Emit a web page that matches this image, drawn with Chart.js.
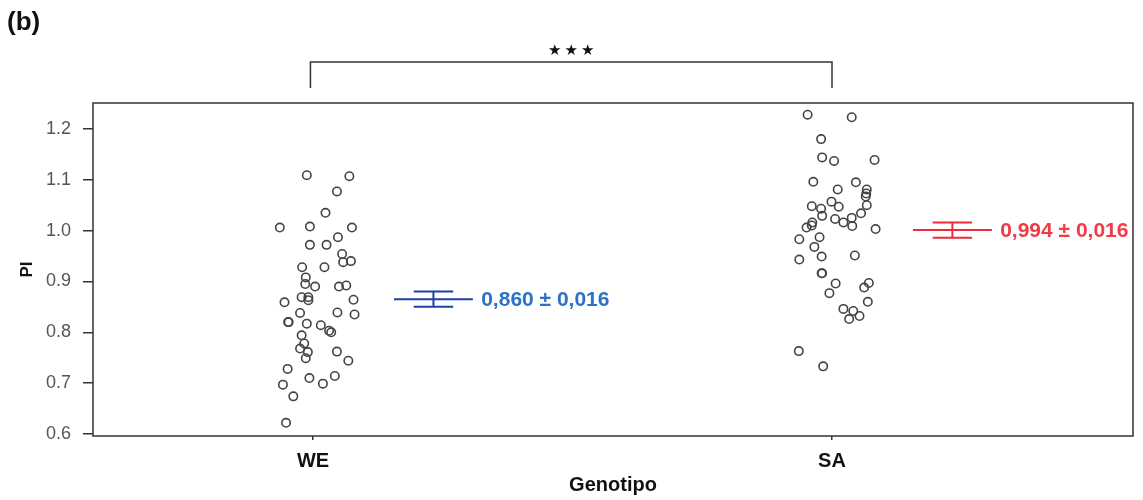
<!DOCTYPE html>
<html>
<head>
<meta charset="utf-8">
<title>PI por genotipo</title>
<script src="https://cdn.jsdelivr.net/npm/chart.js@4.4.1/dist/chart.umd.min.js"></script>
<style>
  html, body { margin: 0; padding: 0; background: #ffffff; }
  #wrap { width: 1143px; height: 500px; position: relative; }
</style>
</head>
<body>
<div id="wrap"><canvas id="piChart" width="1143" height="500"></canvas></div>
<script>
// Data
const categories = ['WE', 'SA'];
const yTicks = [0.6, 0.7, 0.8, 0.9, 1.0, 1.1, 1.2];

// WE: PI values and horizontal jitter (in category units)
const weValues = [1.109, 1.107, 1.077, 1.035, 1.006, 1.008, 1.006, 0.987, 0.972, 0.972,
  0.954, 0.938, 0.940, 0.928, 0.928, 0.908, 0.895, 0.890, 0.890, 0.892,
  0.869, 0.869, 0.863, 0.859, 0.864, 0.838, 0.839, 0.835, 0.820, 0.820,
  0.817, 0.814, 0.803, 0.800, 0.794, 0.778, 0.768, 0.761, 0.749, 0.762,
  0.744, 0.728, 0.710, 0.699, 0.714, 0.697, 0.674, 0.622];
const weJitter = [-0.012, 0.070, 0.046, 0.024, -0.064, -0.006, 0.075, 0.048, -0.006, 0.026,
  0.056, 0.058, 0.073, -0.021, 0.022, -0.014, -0.015, 0.004, 0.050, 0.064,
  -0.022, -0.009, -0.009, -0.055, 0.078, -0.025, 0.047, 0.080, -0.048, -0.047,
  -0.012, 0.015, 0.031, 0.035, -0.022, -0.017, -0.025, -0.010, -0.014, 0.046,
  0.068, -0.049, -0.007, 0.019, 0.042, -0.058, -0.038, -0.052];

// SA: PI values and horizontal jitter
const saValues = [1.228, 1.223, 1.180, 1.144, 1.137, 1.139, 1.096, 1.095, 1.081, 1.081,
  1.073, 1.067, 1.050, 1.048, 1.057, 1.047, 1.043, 1.029, 1.034, 1.023,
  1.025, 1.016, 1.009, 1.016, 1.010, 1.006, 1.003, 0.983, 0.987, 0.968,
  0.943, 0.949, 0.951, 0.916, 0.916, 0.896, 0.877, 0.897, 0.888, 0.860,
  0.846, 0.842, 0.832, 0.826, 0.763, 0.733];
const saJitter = [-0.047, 0.038, -0.021, -0.019, 0.004, 0.082, -0.036, 0.046, 0.011, 0.067,
  0.066, 0.065, 0.067, -0.039, -0.001, 0.013, -0.021, -0.019, 0.056, 0.006,
  0.038, 0.022, 0.039, -0.038, -0.039, -0.049, 0.084, -0.063, -0.024, -0.034,
  -0.063, -0.020, 0.044, -0.019, -0.020, 0.007, -0.005, 0.071, 0.062, 0.069,
  0.022, 0.041, 0.053, 0.033, -0.064, -0.017];

// Mean +/- SEM as drawn, and their labels
const groupMeans = [0.865, 1.001];
const groupSems = [0.015, 0.015];
const meanLabels = ['0,860 \u00b1 0,016', '0,994 \u00b1 0,016'];
const significance = '\u2605';

// Styling / placement (not data)
const FONT = "'Liberation Sans', Arial, Helvetica, sans-serif";
const lineColors = ['#1f3fa6', '#ee2b36'];
const textColors = ['#2c72c6', '#f03a48'];
const barOffset = 0.232;
const meanHalf = 0.076;
const capHalf = 0.038;

// Build scatter points
function buildPoints(catIndex, values, jitter) {
  return values.map((v, i) => ({ x: catIndex + 1 + jitter[i], y: v }));
}

// Build mean / sem line segments for one group
function buildErrorBar(catIndex) {
  const c = catIndex + 1 + barOffset;
  const m = groupMeans[catIndex];
  const s = groupSems[catIndex];
  const color = lineColors[catIndex];
  const seg = (pts) => ({
    type: 'line',
    data: pts,
    borderColor: color,
    borderWidth: 2,
    pointRadius: 0,
    fill: false,
    tension: 0
  });
  return [
    seg([{ x: c - meanHalf, y: m }, { x: c + meanHalf, y: m }]),
    seg([{ x: c - capHalf, y: m + s }, { x: c + capHalf, y: m + s }]),
    seg([{ x: c - capHalf, y: m - s }, { x: c + capHalf, y: m - s }]),
    seg([{ x: c, y: m - s }, { x: c, y: m + s }])
  ];
}

// Frame, bracket, labels
const decorations = {
  id: 'decorations',
  afterDraw(chart) {
    const { ctx, chartArea: a, scales } = chart;
    const xs = scales.x, ys = scales.y;
    ctx.save();

    // box around the plot
    ctx.strokeStyle = '#333';
    ctx.lineWidth = 1.5;
    ctx.strokeRect(a.left, a.top, a.right - a.left, a.bottom - a.top);

    // significance bracket
    const x1 = xs.getPixelForValue(0.995);
    const x2 = xs.getPixelForValue(2.0);
    const yTop = a.top - 41;
    const yBot = a.top - 15;
    ctx.beginPath();
    ctx.moveTo(x1, yBot);
    ctx.lineTo(x1, yTop);
    ctx.lineTo(x2, yTop);
    ctx.lineTo(x2, yBot);
    ctx.stroke();

    ctx.fillStyle = '#111';
    ctx.font = "15px 'DejaVu Sans', sans-serif";
    ctx.textAlign = 'center';
    ctx.textBaseline = 'middle';
    const mid = (x1 + x2) / 2;
    [-16.5, 0, 16.5].forEach(dx => ctx.fillText(significance, mid + dx, yTop - 11));

    // mean labels
    ctx.font = 'bold 21px ' + FONT;
    ctx.textAlign = 'left';
    groupMeans.forEach((m, i) => {
      ctx.fillStyle = textColors[i];
      const tx = xs.getPixelForValue(i + 1 + barOffset + 0.092);
      ctx.fillText(meanLabels[i], tx, ys.getPixelForValue(m) + 1);
    });

    // panel letter
    ctx.fillStyle = '#111';
    ctx.font = 'bold 26px ' + FONT;
    ctx.textBaseline = 'top';
    ctx.fillText('(b)', 7, 10);
    ctx.restore();
  }
};

// Initialize chart
function initChart() {
  const ctx = document.getElementById('piChart').getContext('2d');
  const pointStyle = {
    type: 'scatter',
    pointRadius: 4.2,
    pointHoverRadius: 4.2,
    borderWidth: 1.6,
    borderColor: '#444',
    backgroundColor: 'rgba(0,0,0,0)'
  };

  new Chart(ctx, {
    data: {
      datasets: [
        { ...pointStyle, label: categories[0], data: buildPoints(0, weValues, weJitter) },
        { ...pointStyle, label: categories[1], data: buildPoints(1, saValues, saJitter) },
        ...buildErrorBar(0),
        ...buildErrorBar(1)
      ]
    },
    options: {
      responsive: false,
      animation: false,
      layout: { padding: { top: 103, right: 10, left: 0, bottom: 0 } },
      plugins: {
        legend: { display: false },
        tooltip: { enabled: false }
      },
      scales: {
        x: {
          type: 'linear',
          min: 0.576,
          max: 2.58,
          afterBuildTicks: (scale) => { scale.ticks = categories.map((c, i) => ({ value: i + 1 })); },
          afterFit: (scale) => { scale.height = 64; },
          border: { display: false },
          grid: { drawOnChartArea: false, drawTicks: true, tickLength: 4, color: '#333', lineWidth: 1.5 },
          ticks: {
            callback: (v) => categories[Math.round(v) - 1] || '',
            color: '#111',
            padding: 9,
            font: { family: FONT, size: 20, weight: 'bold' }
          },
          title: {
            display: true,
            text: 'Genotipo',
            color: '#111',
            padding: { top: 0, bottom: 3 },
            font: { family: FONT, size: 20, weight: 'bold' }
          }
        },
        y: {
          type: 'linear',
          min: 0.596,
          max: 1.251,
          afterBuildTicks: (scale) => { scale.ticks = yTicks.map(v => ({ value: v })); },
          afterFit: (scale) => { scale.width = 93; },
          border: { display: false },
          grid: { drawOnChartArea: false, drawTicks: true, tickLength: 10, color: '#333', lineWidth: 1.5 },
          ticks: {
            callback: (v) => Number(v).toFixed(1),
            color: '#555',
            padding: 12,
            font: { family: FONT, size: 18 }
          },
          title: {
            display: true,
            text: 'PI',
            color: '#111',
            padding: { top: 17, bottom: 0 },
            font: { family: FONT, size: 17, weight: 'bold' }
          }
        }
      }
    },
    plugins: [decorations]
  });
}

document.addEventListener('DOMContentLoaded', initChart);
</script>
</body>
</html>
